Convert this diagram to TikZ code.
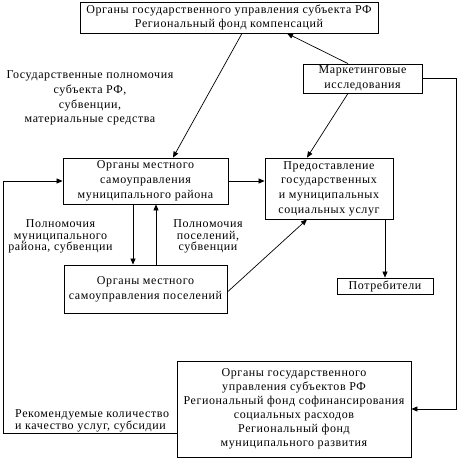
\documentclass[tikz,border=0pt]{standalone}
\usepackage{fontspec}
\setmainfont{Liberation Serif}[LetterSpace=5]
\usetikzlibrary{arrows.meta,calc}
\begin{document}
\begin{tikzpicture}[x=1pt,y=-1pt,
  box/.style={draw,line width=0.8pt,inner sep=0pt,align=center,font=\fontsize{12}{14.7}\selectfont},
  lbl/.style={inner sep=0pt,align=center,font=\fontsize{12}{14.7}\selectfont},
  tight/.style={inner sep=0pt,align=center,font=\fontsize{12}{11.5}\selectfont},
  conn/.style={line width=0.7pt,-{Triangle[length=6pt,width=5pt]}},
  plain/.style={line width=0.7pt}]
\useasboundingbox (0,0) rectangle (458,458);
\node[box,minimum width=298pt,minimum height=31pt] (top) at (229,17.5)
  {Органы государственного управления субъекта РФ\\Региональный фонд компенсаций};
\node[box,minimum width=119pt,minimum height=29pt] (mkt) at (362.5,78.5)
  {Маркетинговые\\исследования};
\node[box,minimum width=165pt,minimum height=46pt] (mun) at (145.5,181)
  {Органы местного\\самоуправления\\муниципального района};
\node[box,minimum width=128pt,minimum height=61pt] (prov) at (329,188.5)
  {Предоставление\\государственных\\и муниципальных\\социальных услуг};
\node[box,minimum width=163pt,minimum height=48pt] (set) at (145.5,289)
  {Органы местного\\самоуправления поселений};
\node[box,minimum width=96pt,minimum height=16pt] (cons) at (385,286)
  {Потребители};
\node[box,minimum width=234pt,minimum height=96pt,font=\fontsize{12}{14}\selectfont] (low) at (294,409)
  {Органы государственного\\управления субъектов РФ\\Региональный фонд софинансирования\\социальных расходов\\Региональный фонд\\муниципального развития};
\node[lbl] (l1) at (90,98) {Государственные полномочия\\субъекта РФ,\\субвенции,\\материальные средства};
\node[tight] (l2) at (60.5,236.7) {Полномочия\\муниципального\\района, субвенции};
\node[tight] (l3) at (208,236.7) {Полномочия\\поселений,\\субвенции};
\node[tight,align=left,anchor=west,font=\fontsize{12}{10.8}\selectfont] (l4) at (15,421) {Рекомендуемые количество\\и качество услуг, субсидии};
\coordinate (rt) at (456,0);
\coordinate (lf) at (3,0);
\coordinate (A) at ([yshift=-24pt]low.west);
\draw[conn] ([xshift=13pt]top.south) -- ([xshift=27.5pt]mun.north);
\draw[conn] ([xshift=-14.5pt]mkt.south) -- ([xshift=-22pt]prov.north);
\draw[conn] ([xshift=-14.5pt]mkt.north) -- ([xshift=58pt]top.south);
\draw[conn] (mkt.east) -- (mkt.east -| rt) |- (low.east);
\draw[conn] (A) -- (A -| lf) -- (lf |- mun.west) -- (mun.west);
\draw[conn] (mun.east) -- (mun.east -| prov.west);
\draw[conn] ([xshift=-12.5pt]mun.south) -- ([xshift=-12.5pt]mun.south |- set.north);
\draw[conn] ([xshift=10.5pt]set.north) -- ([xshift=10.5pt]set.north |- mun.south);
\draw[conn] ([yshift=-3pt]set.east) -- ([xshift=-22pt]prov.south);
\draw[conn] (cons.north |- prov.south) -- (cons.north);
\end{tikzpicture}
\end{document}
